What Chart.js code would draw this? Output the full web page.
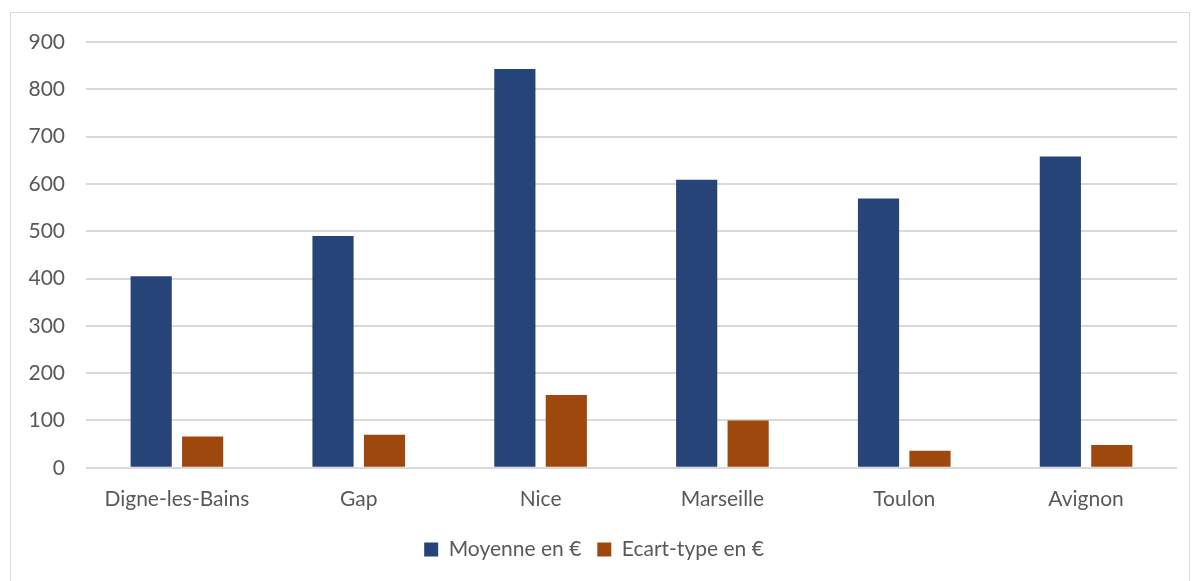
<!DOCTYPE html>
<html>
<head>
<meta charset="utf-8">
<script src="https://cdn.jsdelivr.net/npm/chart.js@4.4.0/dist/chart.umd.min.js"></script>
<style>
  body { margin: 0; background: #fff; }
  #box { position: absolute; left: 10px; top: 12px; width: 1180px; height: 580px; border: 1px solid #d9d9d9; box-sizing: border-box; }
</style>
</head>
<body>
<div id="box"><canvas id="chart"></canvas></div>
<script>
// Data
const cities = ["Digne-les-Bains", "Gap", "Nice", "Marseille", "Toulon", "Avignon"];
const moyenne = [405, 490, 843, 609, 569, 658];
const ecartType = [66, 70, 154, 100, 36, 48];
const yTicks = [0, 100, 200, 300, 400, 500, 600, 700, 800, 900];

const font = "Lato, 'Open Sans', sans-serif";

const ctx = document.getElementById("chart").getContext("2d");
new Chart(ctx, {
  type: "bar",
  data: {
    labels: cities,
    datasets: [
      { label: "Moyenne en €", data: moyenne, backgroundColor: "#264478", borderWidth: 0 },
      { label: "Ecart-type en €", data: ecartType, backgroundColor: "#9e480e", borderWidth: 0 }
    ]
  },
  options: {
    responsive: true,
    maintainAspectRatio: false,
    animation: false,
    categoryPercentage: 0.566,
    barPercentage: 0.8,
    layout: { padding: { left: 0, right: 12, top: 29, bottom: 21 } },
    plugins: {
      legend: {
        position: "bottom",
        labels: { boxWidth: 14, boxHeight: 14, padding: 16, color: "#595959", font: { family: font, size: 21 } }
      },
      tooltip: { enabled: false }
    },
    scales: {
      x: {
        grid: { display: false },
        border: { display: false },
        ticks: { color: "#595959", padding: 11, font: { family: font, size: 21 } }
      },
      y: {
        min: 0,
        max: 900,
        afterBuildTicks: axis => { axis.ticks = yTicks.map(v => ({ value: v })); },
        afterFit: axis => { axis.width = 75; axis.paddingTop = 0; },
        grid: { color: "#d9d9d9", lineWidth: 2, drawTicks: false },
        border: { display: false },
        ticks: { color: "#595959", padding: 21, font: { family: font, size: 21 } }
      }
    }
  }
});
</script>
</body>
</html>
